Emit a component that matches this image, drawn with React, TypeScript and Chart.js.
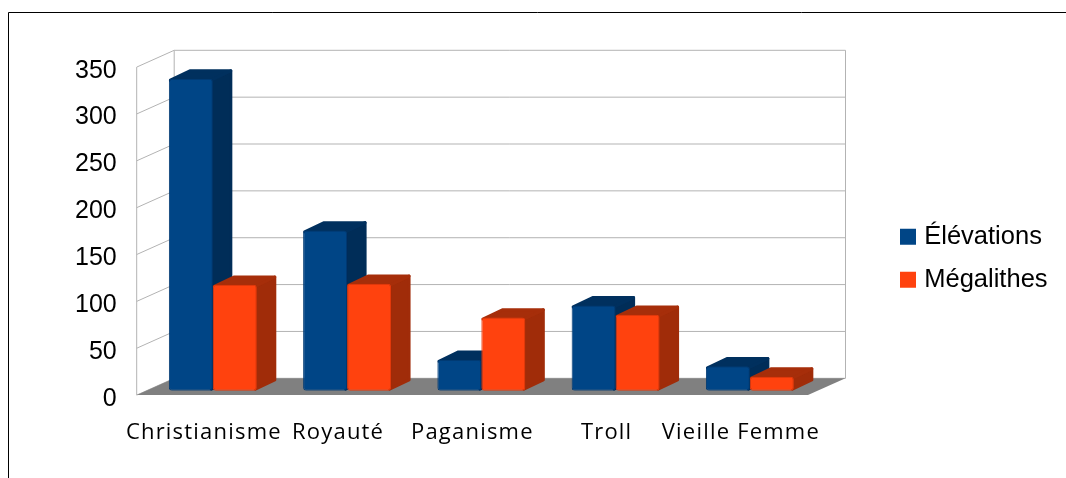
import React, { useEffect, useRef } from "react";
import { Chart, registerables } from "chart.js";

Chart.register(...registerables);

const categories = ["Christianisme", "Royauté", "Paganisme", "Troll", "Vieille Femme"];
const elevations = [333, 171, 33, 91, 26];
const megalithes = [113, 114, 78, 81, 15];
const seriesNames = ["Élévations", "Mégalithes"];
const fills = ["#004586", "#ff420e"];
const edges = ["#003a72", "#e63a0c"];
const sides = ["#002d58", "#a02c09"];
const tops = ["#00305e", "#a62e0a"];

const AREA_LEFT = 145.7;
const AREA_RIGHT = 817;
const AREA_TOP = 62.7;
const AREA_BOTTOM = 390.7;
const BAR_DX = 19.5;
const BAR_DY = -9.3;
const FRONT = { x: -9, y: 4.4 };
const BACK = { x: 28.5, y: -12.4 };
const WALL = "#b3b3b3";

function paintDepth(chart: any, index: number) {
  const ctx = chart.ctx;
  const meta = chart.getDatasetMeta(index);
  ctx.save();
  ctx.lineJoin = "round";
  ctx.lineWidth = 3;
  for (const el of meta.data) {
    const l = el.x - el.width / 2;
    const r = el.x + el.width / 2;
    const t = el.y;
    const b = el.base;
    ctx.fillStyle = sides[index];
    ctx.strokeStyle = sides[index];
    ctx.beginPath();
    ctx.moveTo(r - 1.5, t + 1.5);
    ctx.lineTo(r + BAR_DX - 1.5, t + BAR_DY + 1.5);
    ctx.lineTo(r + BAR_DX - 1.5, b + BAR_DY - 1.5);
    ctx.lineTo(r - 1.5, b - 1.5);
    ctx.closePath();
    ctx.fill();
    ctx.stroke();
    ctx.fillStyle = tops[index];
    ctx.strokeStyle = tops[index];
    ctx.beginPath();
    ctx.moveTo(l + 1.5, t + 1.5);
    ctx.lineTo(l + BAR_DX + 1.5, t + BAR_DY + 1.5);
    ctx.lineTo(r + BAR_DX - 1.5, t + BAR_DY + 1.5);
    ctx.lineTo(r - 1.5, t + 1.5);
    ctx.closePath();
    ctx.fill();
    ctx.stroke();
  }
  ctx.restore();
}

const scenePlugin = {
  id: "scene",
  beforeLayout(chart: any) {
    const legend = chart.legend;
    if (legend && !legend.__wrapped) {
      legend.__wrapped = true;
      const fit = legend.fit;
      legend.fit = function () {
        fit.call(this);
        this.width = 1066 - AREA_RIGHT;
      };
    }
  },
  afterLayout(chart: any) {
    const legend = chart.legend;
    const pad = legend.options.labels.padding;
    legend.left = 904.5 - pad;
    legend.top = 224 - pad;
    const xs = chart.scales.x;
    if (!xs.__spaced) {
      xs.__spaced = true;
      const orig = xs.drawLabels;
      xs.drawLabels = function (area: any) {
        const c = this.ctx;
        c.save();
        c.letterSpacing = "1.2px";
        orig.call(this, area);
        c.restore();
      };
    }
  },
  beforeDraw(chart: any) {
    const { ctx, scales } = chart;
    const ys = scales.y;
    ctx.save();
    // page frame
    ctx.strokeStyle = "#000000";
    ctx.lineWidth = 1;
    ctx.beginPath();
    ctx.moveTo(8.5, 478);
    ctx.lineTo(8.5, 12.5);
    ctx.lineTo(1066, 12.5);
    ctx.stroke();

    const y0 = ys.getPixelForValue(0);
    const yMax = ys.getPixelForValue(ys.max);
    const fl = AREA_LEFT + FRONT.x;
    const fr = AREA_RIGHT + FRONT.x;
    const bl = AREA_LEFT + BACK.x;
    const br = AREA_RIGHT + BACK.x;

    ctx.strokeStyle = WALL;
    ctx.lineWidth = 1;
    for (const t of ys.ticks) {
      const y = ys.getPixelForValue(t.value);
      ctx.beginPath();
      ctx.moveTo(fl, y + FRONT.y);
      ctx.lineTo(bl, y + BACK.y);
      ctx.lineTo(br, y + BACK.y);
      ctx.stroke();
    }
    ctx.beginPath();
    ctx.moveTo(fl, y0 + FRONT.y);
    ctx.lineTo(fl, yMax + FRONT.y);
    ctx.moveTo(bl, y0 + BACK.y);
    ctx.lineTo(bl, yMax + BACK.y);
    ctx.moveTo(br, y0 + BACK.y);
    ctx.lineTo(br, yMax + BACK.y);
    ctx.stroke();

    ctx.fillStyle = "#808080";
    ctx.beginPath();
    ctx.moveTo(fl, y0 + FRONT.y);
    ctx.lineTo(bl, y0 + BACK.y);
    ctx.lineTo(br, y0 + BACK.y);
    ctx.lineTo(fr, y0 + FRONT.y);
    ctx.closePath();
    ctx.fill();
    ctx.restore();
  },
  beforeDatasetDraw(chart: any, args: any) {
    if (args.index === 1) return false;
    paintDepth(chart, 0);
  },
  afterDatasetsDraw(chart: any) {
    paintDepth(chart, 1);
    for (const el of chart.getDatasetMeta(1).data) el.draw(chart.ctx, chart.chartArea);
  },
};

export default function App() {
  const ref = useRef<HTMLCanvasElement | null>(null);
  useEffect(() => {
    const chart = new Chart(ref.current as HTMLCanvasElement, {
      type: "bar",
      data: {
        labels: categories,
        datasets: [elevations, megalithes].map((data, i) => ({
          label: seriesNames[i],
          data,
          backgroundColor: fills[i],
          borderColor: edges[i],
          borderWidth: 1,
          borderRadius: 3,
          borderSkipped: false,
          categoryPercentage: 0.655,
          barPercentage: 1,
        })),
      },
      options: {
        responsive: false,
        animation: false,
        layout: { padding: { top: AREA_TOP, left: 0, right: 0, bottom: 0 } },
        scales: {
          x: {
            grid: { display: false },
            border: { display: false },
            afterFit: (s: any) => {
              s.height = 478 - AREA_BOTTOM;
            },
            ticks: {
              maxRotation: 0,
              autoSkip: false,
              padding: 21,
              labelOffset: -9,
              color: "#000000",
              font: { family: "'Open Sans'", size: 22 },
            },
          },
          y: {
            min: 0,
            max: 350,
            grid: { display: false },
            border: { display: false },
            afterFit: (s: any) => {
              s.width = AREA_LEFT;
            },
            ticks: {
              stepSize: 50,
              padding: 21,
              labelOffset: 8,
              color: "#000000",
              font: { family: "'Liberation Sans'", size: 25 },
            },
          },
        },
        plugins: {
          tooltip: { enabled: false },
          legend: {
            display: true,
            position: "right",
            align: "start",
            labels: {
              boxWidth: 7,
              boxHeight: 7,
              padding: 17.5,
              color: "#000000",
              font: { family: "'Liberation Sans'", size: 25.5 },
              generateLabels: () =>
                seriesNames.map((text, i) => ({
                  text,
                  fillStyle: fills[i],
                  strokeStyle: fills[i],
                  lineWidth: 9,
                  datasetIndex: i,
                })),
            },
          },
        },
      } as any,
      plugins: [scenePlugin as any],
    });
    return () => chart.destroy();
  }, []);
  return (
    <div style={{ position: "absolute", left: 0, top: 0, width: 1066, height: 478 }}>
      <canvas ref={ref} width={1066} height={478} style={{ display: "block" }} />
    </div>
  );
}
